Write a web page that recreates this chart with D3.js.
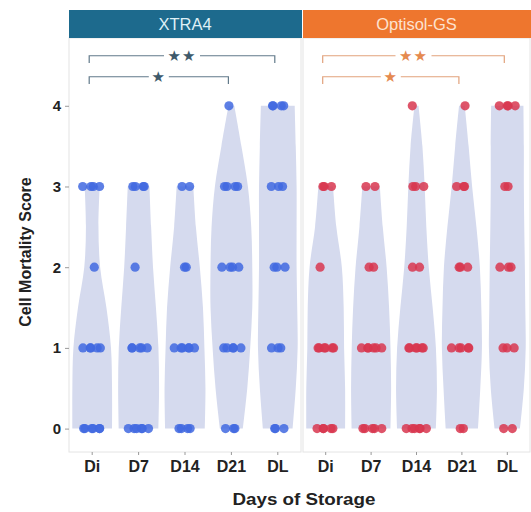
<!DOCTYPE html>
<html><head><meta charset="utf-8">
<script src="https://cdn.jsdelivr.net/npm/d3@7"></script>
<style>body{margin:0;background:#fff}</style>
</head><body>
<svg id="c" width="531" height="512"></svg>
<script>
// ---------------- data ----------------
const days = ["Di", "D7", "D14", "D21", "DL"];
const panels = ["XTRA4", "Optisol-GS"];
const scoreTicks = [0, 1, 2, 3, 4];
// violin relative width (density) at these score levels (up to each group's max)
const densityLevels = [0, 0.5, 1, 1.5, 2, 2.5, 3, 3.5, 4];
const xtraDensity = [
  [0.95, 0.95, 0.90, 0.68, 0.38, 0.30, 0.36],
  [0.95, 0.98, 0.95, 0.83, 0.69, 0.60, 0.52],
  [0.95, 0.98, 0.93, 0.86, 0.71, 0.52, 0.40],
  [0.55, 0.76, 0.90, 1.00, 1.00, 0.95, 0.79, 0.48, 0.14],
  [0.71, 0.86, 0.95, 0.93, 0.90, 0.90, 0.90, 0.86, 0.81]
];
const optiDensity = [
  [0.95, 0.95, 0.90, 0.88, 0.79, 0.52, 0.36],
  [0.95, 0.98, 0.95, 0.88, 0.76, 0.57, 0.43],
  [0.95, 1.00, 0.95, 0.79, 0.60, 0.48, 0.40, 0.29, 0.10],
  [0.79, 0.90, 0.98, 0.95, 0.88, 0.71, 0.50, 0.33, 0.14],
  [0.62, 0.81, 0.90, 0.88, 0.86, 0.83, 0.81, 0.81, 0.79]
];
// number of samples at score 0,1,2,3,4 for each day
const xtraCounts = [
  [6, 5, 1, 4, 0],
  [6, 5, 1, 4, 0],
  [4, 6, 2, 2, 0],
  [3, 5, 4, 4, 1],
  [3, 3, 3, 3, 4]
];
const optiCounts = [
  [5, 6, 1, 3, 0],
  [5, 6, 2, 2, 0],
  [6, 6, 2, 3, 1],
  [2, 5, 3, 3, 1],
  [2, 3, 3, 2, 4]
];
const comparisonFrom = ["Di", "Di"];
const comparisonTo = ["DL", "D21"];
const comparisonLabel = ["**", "*"];

// ---------------- layout ----------------
const svg = d3.select("#c");
const font = "'Liberation Sans', Arial, Helvetica, sans-serif";
const panelTop = 38, panelBottom = 452, stripTop = 10;
const panelDefs = [
  {name: panels[0], x0: 69, x1: 301, sx1: 302, density: xtraDensity, counts: xtraCounts,
   strip: "#1d6a8d", stripText: "#dff0f6", point: "#4169e1", line: "#627a8a", star: "#3e5a6b"},
  {name: panels[1], x0: 303, x1: 530, sx1: 531, density: optiDensity, counts: optiCounts,
   strip: "#ee762e", stripText: "#fde2cf", point: "#d8364f", line: "#e2a27c", star: "#e58a4f"}
];
const y = d3.scaleLinear().domain([-0.29, 4.84]).range([panelBottom, panelTop]);
const jitterPattern = [0.1, -0.8, 0.55, -0.35, 0.9, -0.6, 0.3, -0.1, 0.75, -0.95, 0.45, -0.5];

panelDefs.forEach((p, pi) => {
  const x = d3.scaleBand().domain(days).range([p.x0, p.x1]);
  const bw = x.bandwidth();
  const g = svg.append("g");

  g.append("rect").attr("x", p.x0).attr("y", panelTop).attr("width", p.x1 - p.x0)
    .attr("height", panelBottom - panelTop).attr("fill", "#fff")
    .attr("stroke", "#e4e4e4").attr("stroke-width", 1);

  // strip
  g.append("rect").attr("x", p.x0).attr("y", stripTop).attr("width", p.sx1 - p.x0)
    .attr("height", panelTop - stripTop).attr("fill", p.strip);
  g.append("text").attr("x", (p.x0 + p.x1) / 2).attr("y", 30)
    .attr("text-anchor", "middle").attr("font-family", font).attr("font-size", 16.5)
    .attr("fill", p.stripText).text(p.name);

  // violins
  const area = d3.area()
    .y(d => y(d.s))
    .x0(d => d.cx - d.w * bw * 0.45)
    .x1(d => d.cx + d.w * bw * 0.45)
    .curve(d3.curveCatmullRom.alpha(0.5));
  days.forEach((day, i) => {
    const cx = x(day) + bw / 2;
    const pts = p.density[i].map((w, k) => ({s: densityLevels[k], w, cx}));
    g.append("path").attr("d", area(pts)).attr("fill", "#d5daee");
  });

  // points
  days.forEach((day, i) => {
    const cx = x(day) + bw / 2;
    p.counts[i].forEach((n, score) => {
      const spread = Math.min(10.5, 1.5 + n * 2);
      for (let k = 0; k < n; k++) {
        const base = n === 1 ? 0 : ((k + 0.5) / n - 0.5) * 2 * spread;
        const jit = jitterPattern[(k + score * 3 + i * 5 + pi * 7) % jitterPattern.length];
        const off = n === 1 ? jit * 7 : base + jit * 2.5;
        g.append("circle").attr("cx", cx + off).attr("cy", y(score)).attr("r", 4.6)
          .attr("fill", p.point).attr("fill-opacity", 0.85);
      }
    });
  });

  // significance brackets
  comparisonFrom.forEach((a, j) => {
    const xa = x(a) + bw / 2 - 3, xb = x(comparisonTo[j]) + bw / 2 - 3;
    const lvl = 4.62 - j * 0.26;
    const yb = y(lvl), yt = y(lvl - 0.09);
    const cxm = (xa + xb) / 2;
    const nStars = comparisonLabel[j].length;
    const gap = 2 + 8 * nStars;
    g.append("path")
      .attr("d", `M${xa},${yt}L${xa},${yb}L${cxm - gap},${yb}M${cxm + gap},${yb}L${xb},${yb}L${xb},${yt}`)
      .attr("fill", "none").attr("stroke", p.line).attr("stroke-width", 1.2);
    g.append("text").attr("x", cxm).attr("y", yb).attr("dy", "0.36em")
      .attr("text-anchor", "middle").attr("font-family", "'DejaVu Sans', sans-serif")
      .attr("font-size", 15).attr("letter-spacing", 1).attr("fill", p.star)
      .text(comparisonLabel[j].replace(/\*/g, "\u2605"));
  });

  // x axis
  const xa = g.append("g").attr("transform", `translate(0,${panelBottom})`)
    .call(d3.axisBottom(x).tickSize(3).tickPadding(6));
  xa.select(".domain").remove();
  xa.selectAll(".tick line").attr("stroke", "#999");
  xa.selectAll(".tick text").attr("font-family", font).attr("font-size", 16)
    .attr("font-weight", "bold").attr("fill", "#222");
});

// y axis
const ya = svg.append("g").attr("transform", `translate(69,0)`)
  .call(d3.axisLeft(y).tickValues(scoreTicks).tickFormat(d3.format("d")).tickSize(4).tickPadding(4));
ya.select(".domain").remove();
ya.selectAll(".tick line").attr("stroke", "#999");
ya.selectAll(".tick text").attr("font-family", font).attr("font-size", 15)
  .attr("font-weight", "bold").attr("fill", "#222");

// titles
svg.append("text").attr("transform", "translate(31,252) rotate(-90)")
  .attr("text-anchor", "middle").attr("font-family", font).attr("font-size", 16)
  .attr("font-weight", "bold").attr("fill", "#222").text("Cell Mortality Score");
svg.append("text").attr("x", 304).attr("y", 505)
  .attr("text-anchor", "middle").attr("font-family", font).attr("font-size", 17)
  .attr("font-weight", "bold").attr("fill", "#222")
  .attr("textLength", 143).attr("lengthAdjust", "spacingAndGlyphs").text("Days of Storage");
</script>
</body></html>
